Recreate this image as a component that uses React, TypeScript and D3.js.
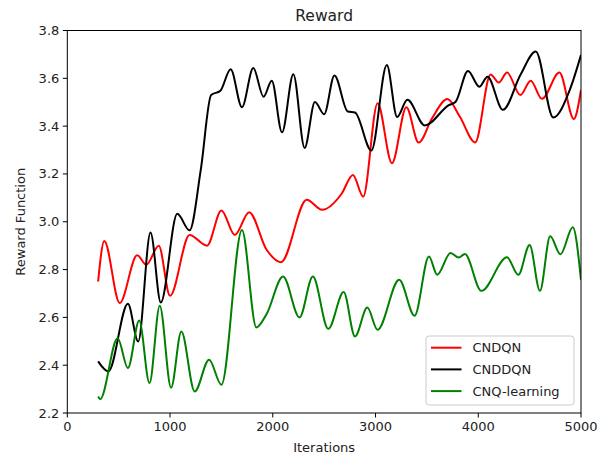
import React from 'react';
import * as d3 from 'd3';

// values (iterations, reward)
const cndqnX = [300, 360, 510, 680, 770, 890, 1000, 1190, 1360, 1500, 1630, 1770, 1940, 2080, 2330, 2480, 2670, 2780, 2880, 3020, 3160, 3300, 3420, 3550, 3700, 3820, 3970, 4120, 4200, 4280, 4410, 4510, 4620, 4790, 4930, 5000];
const cndqnY = [2.75, 2.92, 2.66, 2.86, 2.82, 2.9, 2.69, 2.945, 2.9, 3.047, 2.945, 3.04, 2.883, 2.831, 3.092, 3.05, 3.117, 3.196, 3.105, 3.496, 3.245, 3.479, 3.331, 3.433, 3.513, 3.44, 3.332, 3.616, 3.582, 3.624, 3.53, 3.59, 3.514, 3.624, 3.43, 3.551];

const cnddqnX = [300, 400, 590, 690, 810, 910, 1070, 1190, 1300, 1400, 1490, 1590, 1700, 1810, 1910, 1990, 2090, 2200, 2310, 2410, 2500, 2600, 2730, 2800, 2960, 3110, 3210, 3310, 3480, 3710, 3780, 3900, 4010, 4090, 4240, 4410, 4560, 4730, 4890, 5000];
const cnddqnY = [2.416, 2.374, 2.657, 2.499, 2.955, 2.662, 3.033, 2.964, 3.22, 3.53, 3.548, 3.638, 3.479, 3.643, 3.523, 3.59, 3.374, 3.617, 3.309, 3.501, 3.45, 3.612, 3.461, 3.457, 3.298, 3.656, 3.438, 3.51, 3.403, 3.487, 3.502, 3.631, 3.565, 3.607, 3.468, 3.614, 3.712, 3.436, 3.551, 3.698];

const cnqX = [300, 320, 490, 590, 700, 800, 900, 1010, 1110, 1240, 1380, 1500, 1700, 1840, 1940, 2100, 2260, 2390, 2540, 2690, 2800, 2920, 3020, 3230, 3380, 3520, 3600, 3730, 3810, 3870, 4030, 4280, 4390, 4500, 4600, 4700, 4800, 4920, 5000];
const cnqY = [2.269, 2.258, 2.513, 2.388, 2.587, 2.325, 2.649, 2.306, 2.541, 2.29, 2.423, 2.318, 2.966, 2.558, 2.614, 2.771, 2.6, 2.771, 2.552, 2.706, 2.52, 2.641, 2.548, 2.757, 2.607, 2.855, 2.778, 2.869, 2.85, 2.865, 2.711, 2.851, 2.778, 2.903, 2.711, 2.939, 2.864, 2.977, 2.757];

const seriesNames = ['CNDQN', 'CNDDQN', 'CNQ-learning'];
const seriesColors = ['#ff0000', '#000000', '#008000'];
const xTicks = [0, 1000, 2000, 3000, 4000, 5000];
const yTicks = [2.2, 2.4, 2.6, 2.8, 3.0, 3.2, 3.4, 3.6, 3.8];

const W = 599, H = 458;
const left = 67.3, right = 581, top = 30.5, bottom = 413;
const font = 'DejaVu Sans, sans-serif';

export default function App() {
  const x = d3.scaleLinear().domain([0, 5000]).range([left, right]);
  const y = d3.scaleLinear().domain([2.2, 3.8]).range([bottom, top]);

  const series = [
    cndqnX.map((v, i) => [v, cndqnY[i]]),
    cnddqnX.map((v, i) => [v, cnddqnY[i]]),
    cnqX.map((v, i) => [v, cnqY[i]]),
  ];

  const line = d3.line<number[]>()
    .x(d => x(d[0]))
    .y(d => y(d[1]))
    .curve(d3.curveMonotoneX);

  const legX = 426, legY = 336;

  return (
    <svg width={W} height={H} style={{ position: 'absolute', left: 0, top: 0, background: '#fff' }} fontFamily={font}>
      <rect x={0} y={0} width={W} height={H} fill="#fff" />
      <defs>
        <clipPath id="plot">
          <rect x={left} y={top} width={right - left} height={bottom - top} />
        </clipPath>
      </defs>
      <g clipPath="url(#plot)">
        {series.map((s, i) =>
          <path key={i} d={line(s) || ''} fill="none" stroke={seriesColors[i]} strokeWidth={2} strokeLinejoin="round" />
        )}
      </g>
      <rect x={left} y={top} width={right - left} height={bottom - top} fill="none" stroke="#000" strokeWidth={1} />
      {xTicks.map(t =>
        <g key={t}>
          <line x1={x(t)} x2={x(t)} y1={bottom} y2={bottom + 4.5} stroke="#000" />
          <text x={x(t)} y={bottom + 18} textAnchor="middle" fontSize={13} fill="#222">{t}</text>
        </g>
      )}
      {yTicks.map(t =>
        <g key={t}>
          <line x1={left - 4.5} x2={left} y1={y(t)} y2={y(t)} stroke="#000" />
          <text x={left - 8} y={y(t) + 4.5} textAnchor="end" fontSize={13} fill="#222">{t.toFixed(1)}</text>
        </g>
      )}
      <text x={(left + right) / 2} y={452} textAnchor="middle" fontSize={13} fill="#222">Iterations</text>
      <text transform={`translate(25,${(top + bottom) / 2}) rotate(-90)`} textAnchor="middle" fontSize={13} fill="#222">Reward Function</text>
      <text x={(left + right) / 2} y={21} textAnchor="middle" fontSize={15.5} fill="#222">Reward</text>
      <rect x={legX} y={legY} width={148} height={69} rx={3} fill="#fff" fillOpacity={0.8} stroke="#ccc" />
      {seriesNames.map((n, i) =>
        <g key={n}>
          <line x1={legX + 5} x2={legX + 35.5} y1={legY + 11.7 + i * 21.7} y2={legY + 11.7 + i * 21.7} stroke={seriesColors[i]} strokeWidth={2} />
          <text x={legX + 46.5} y={legY + 16.2 + i * 21.7} fontSize={13} fill="#222">{n}</text>
        </g>
      )}
    </svg>
  );
}
